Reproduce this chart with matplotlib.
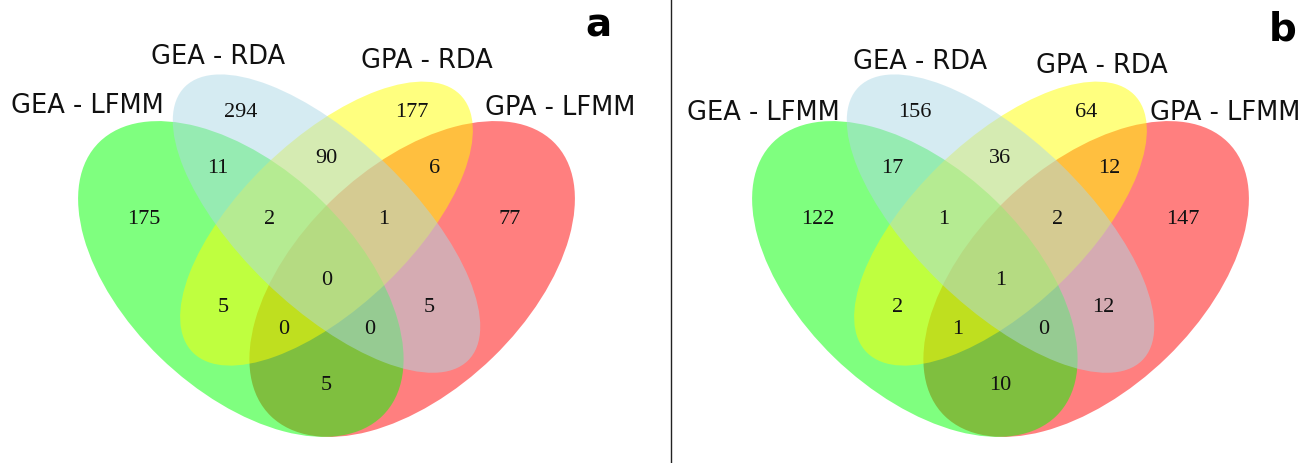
import matplotlib
matplotlib.use("Agg")
import matplotlib.pyplot as plt
from matplotlib.patches import Ellipse
from matplotlib.lines import Line2D

W, H, DPI = 1312, 463, 100

# sets, in the order used by the region keys below
set_names = ["GEA - LFMM", "GEA - RDA", "GPA - RDA", "GPA - LFMM"]
set_colors = ["#00ff00", "lightblue", "yellow", "red"]

# region membership strings (1 = inside that set)
regions = ["0100", "0010", "1100", "0110", "0011",
           "1000", "1110", "0111", "0001", "1111",
           "1010", "0101", "1011", "1101", "1001"]
counts_a = [294, 177, 11, 90, 6, 175, 2, 1, 77, 0, 5, 5, 0, 0, 5]
counts_b = [156, 64, 17, 36, 12, 122, 1, 2, 147, 1, 2, 12, 1, 0, 10]

# layout of the four-ellipse diagram in unit coordinates
ELLIPSES = [((0.35, 0.47), 0.35, 0.20, 135),
            ((0.50, 0.57), 0.35, 0.15, 135),
            ((0.50, 0.57), 0.33, 0.15, 45),
            ((0.65, 0.47), 0.35, 0.20, 45)]
ZORDER = [2, 4, 3, 1]
REGION_POS = {
    "0100": (0.35, 0.770), "0010": (0.65, 0.770),
    "1100": (0.31, 0.669), "0110": (0.50, 0.688), "0011": (0.69, 0.669),
    "1000": (0.18, 0.578), "1110": (0.40, 0.578),
    "0111": (0.60, 0.578), "0001": (0.82, 0.578),
    "1111": (0.50, 0.468),
    "1010": (0.32, 0.418), "0101": (0.68, 0.418),
    "1011": (0.425, 0.378), "1101": (0.575, 0.378),
    "1001": (0.50, 0.277),
}

SX, SY = 571.0, 554.0   # pixels per unit (x, y)
CY = 279.0              # pixel row where v = 0.47


def venn_axes(fig, x0, x1, cx):
    ax = fig.add_axes([x0 / W, 0, (x1 - x0) / W, 1])
    ax.set_xlim(0.5 + (x0 - cx) / SX, 0.5 + (x1 - cx) / SX)
    ax.set_ylim(0.47 - (H - CY) / SY, 0.47 + CY / SY)
    ax.axis("off")
    return ax


def draw_venn(ax, counts, cat_pos, letter, letter_pos):
    for (xy, a, b, ang), col, z in zip(ELLIPSES, set_colors, ZORDER):
        ax.add_patch(Ellipse(xy, 2 * a, 2 * b, angle=ang, facecolor=col,
                             edgecolor="none", alpha=0.5, zorder=z))
    for key, n in zip(regions, counts):
        x, y = REGION_POS[key]
        ax.text(x, y, str(n), ha="center", va="center", fontsize=16,
                family=["Liberation Serif", "DejaVu Serif"], color="#111111",
                zorder=10)
    for name, (x, y) in zip(set_names, cat_pos):
        ax.text(x, y, name, ha="center", va="baseline", fontsize=18.5,
                family="DejaVu Sans", color="#111111", zorder=10)
    ax.text(*letter_pos, letter, ha="center", va="baseline", fontsize=28,
            fontweight="bold", family="DejaVu Sans", color="black")


fig = plt.figure(figsize=(W / DPI, H / DPI), dpi=DPI)

ax_a = venn_axes(fig, 0, 671, 326.5)
draw_venn(ax_a, counts_a,
          [(0.082, 0.770), (0.310, 0.858), (0.675, 0.851), (0.910, 0.766)],
          "a", (0.976, 0.907))

ax_b = venn_axes(fig, 671, W, 1000.5)
draw_venn(ax_b, counts_b,
          [(0.085, 0.757), (0.360, 0.849), (0.678, 0.842), (0.894, 0.757)],
          "b", (0.994, 0.901))

# divider between the two panels
fig.add_artist(Line2D([671 / W, 671 / W], [0, 1], color="#222222", lw=1))

fig.savefig("out.png", dpi=DPI)
